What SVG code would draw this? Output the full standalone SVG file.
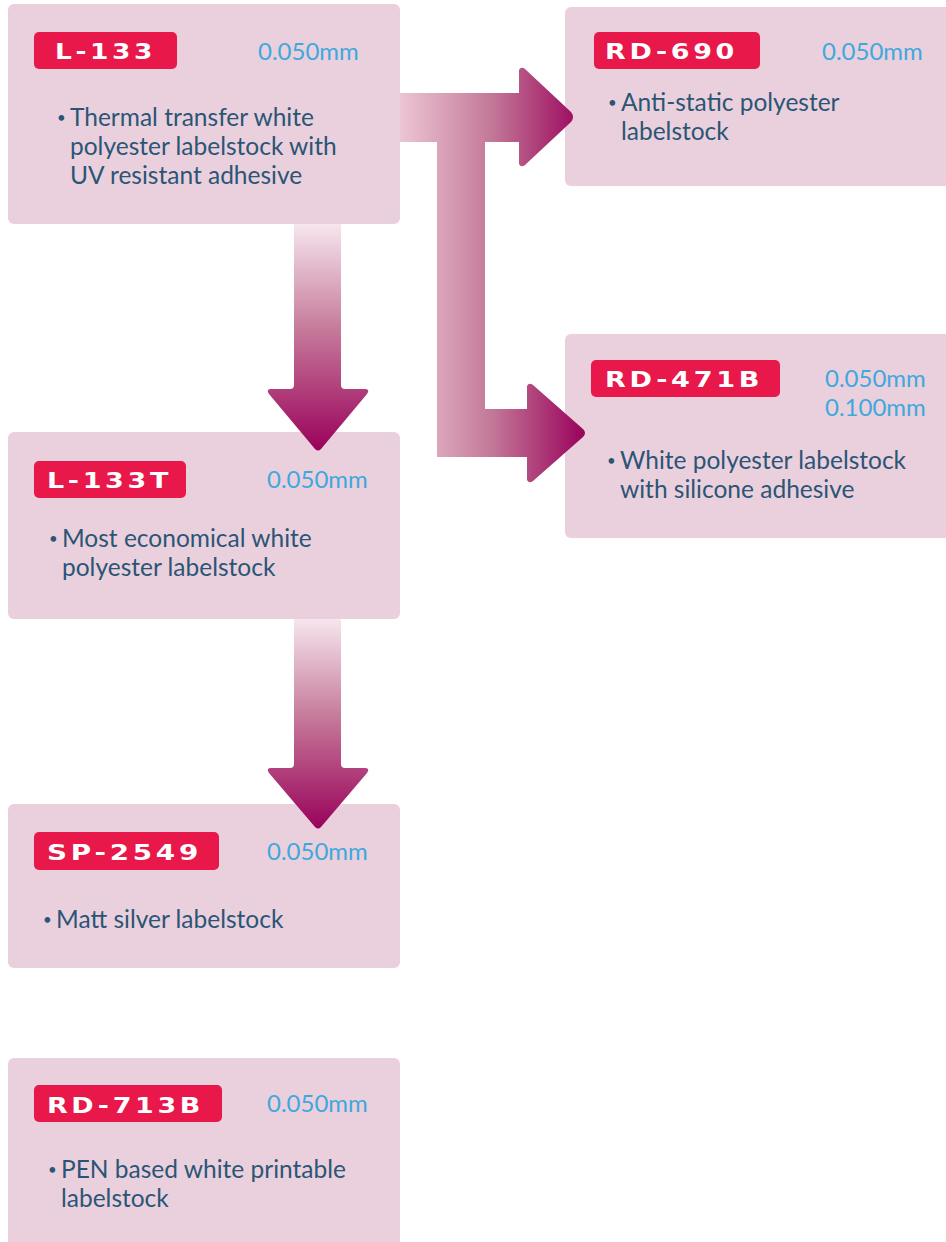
<svg xmlns="http://www.w3.org/2000/svg" width="946" height="1242" viewBox="0 0 946 1242">
<style>
.box{fill:#ead0dc}
.badge{fill:#e8184a}
.code{font-family:"DejaVu Sans",sans-serif;font-weight:bold;font-size:22px;fill:#ffffff;letter-spacing:3px}
.thk{font-family:Lato,"Liberation Sans",sans-serif;font-size:24px;fill:#3fa8de}
.desc{font-family:Lato,"Liberation Sans",sans-serif;font-size:24.5px;fill:#2a5577}
.bul{font-family:Lato,"Liberation Sans",sans-serif;font-size:15px;fill:#2a5577}
</style>
<defs>
<linearGradient id="gh" x1="400" y1="0" x2="586" y2="0" gradientUnits="userSpaceOnUse">
<stop offset="0" stop-color="#ecc5d4"/>
<stop offset="0.5" stop-color="#c27797"/>
<stop offset="1" stop-color="#99005a"/>
</linearGradient>
<linearGradient id="gv1" x1="0" y1="224" x2="0" y2="452" gradientUnits="userSpaceOnUse">
<stop offset="0" stop-color="#f6e6ee"/>
<stop offset="0.45" stop-color="#c77d9c"/>
<stop offset="1" stop-color="#99005a"/>
</linearGradient>
<linearGradient id="gv2" x1="0" y1="619" x2="0" y2="830" gradientUnits="userSpaceOnUse">
<stop offset="0" stop-color="#f6e6ee"/>
<stop offset="0.45" stop-color="#c77d9c"/>
<stop offset="1" stop-color="#99005a"/>
</linearGradient>
</defs>

<g id="node-L-133">
<rect class="box" x="8" y="4" width="392" height="220" rx="6"/>
<rect class="badge" x="34" y="32" width="143" height="37" rx="5"/>
<text class="code" x="55" y="59" textLength="101" lengthAdjust="spacingAndGlyphs">L-133</text>
<text class="thk" x="258" y="60">0.050mm</text>
<text class="bul" x="57" y="123">•</text>
<text class="desc" x="70" y="126">Thermal transfer white</text>
<text class="desc" x="70" y="155">polyester labelstock with</text>
<text class="desc" x="70" y="184">UV resistant adhesive</text>
</g>

<g id="node-RD-690">
<rect class="box" x="565" y="7" width="390" height="179" rx="6"/>
<rect class="badge" x="594" y="32" width="166" height="37" rx="5"/>
<text class="code" x="605" y="59" textLength="133" lengthAdjust="spacingAndGlyphs">RD-690</text>
<text class="thk" x="822" y="60">0.050mm</text>
<text class="bul" x="608" y="108">•</text>
<text class="desc" x="621" y="111">Anti-static polyester</text>
<text class="desc" x="621" y="140">labelstock</text>
</g>

<g id="node-RD-471B">
<rect class="box" x="565" y="334" width="390" height="204" rx="6"/>
<rect class="badge" x="591" y="360" width="189" height="37" rx="5"/>
<text class="code" x="605" y="387" textLength="158" lengthAdjust="spacingAndGlyphs">RD-471B</text>
<text class="thk" x="825" y="387">0.050mm</text>
<text class="thk" x="825" y="416">0.100mm</text>
<text class="bul" x="607" y="466">•</text>
<text class="desc" x="620" y="469">White polyester labelstock</text>
<text class="desc" x="620" y="498">with silicone adhesive</text>
</g>

<g id="node-L-133T">
<rect class="box" x="8" y="432" width="392" height="187" rx="6"/>
<rect class="badge" x="34" y="461" width="152" height="37" rx="5"/>
<text class="code" x="47" y="488" textLength="125" lengthAdjust="spacingAndGlyphs">L-133T</text>
<text class="thk" x="267" y="488">0.050mm</text>
<text class="bul" x="49" y="544">•</text>
<text class="desc" x="62" y="547">Most economical white</text>
<text class="desc" x="62" y="576">polyester labelstock</text>
</g>

<g id="node-SP-2549">
<rect class="box" x="8" y="804" width="392" height="164" rx="6"/>
<rect class="badge" x="34" y="832" width="185" height="38" rx="5"/>
<text class="code" x="47" y="860" textLength="155" lengthAdjust="spacingAndGlyphs">SP-2549</text>
<text class="thk" x="267" y="860">0.050mm</text>
<text class="bul" x="43" y="925">•</text>
<text class="desc" x="56" y="928">Matt silver labelstock</text>
</g>

<g id="node-RD-713B">
<rect class="box" x="8" y="1058" width="392" height="200" rx="6"/>
<rect class="badge" x="34" y="1085" width="188" height="37" rx="5"/>
<text class="code" x="47" y="1113" textLength="157" lengthAdjust="spacingAndGlyphs">RD-713B</text>
<text class="thk" x="267" y="1112">0.050mm</text>
<text class="bul" x="48" y="1175">•</text>
<text class="desc" x="61" y="1178">PEN based white printable</text>
<text class="desc" x="61" y="1207">labelstock</text>
</g>

<g id="connectors">
<path d="M400 93 H519 V70 Q521 66 525 69 L571 112 Q575 117 571 122 L525 165 Q521 168 519 164 V142 H485 V409 H527 V386 Q529 382 533 385 L583 429 Q587 433 583 437 L533 481 Q529 484 527 480 V457 H437 V142 H400 Z" fill="url(#gh)"/>
<path d="M294 224 H341 V385 Q341 389 345 389 H366 Q370 390 367 394 L321 449 Q318 452 315 449 L269 394 Q266 390 270 389 H290 Q294 389 294 385 Z" fill="url(#gv1)"/>
<path d="M294 619 H341 V764 Q341 768 345 768 H366 Q370 769 367 773 L321 827 Q318 830 315 827 L269 773 Q266 769 270 768 H290 Q294 768 294 764 Z" fill="url(#gv2)"/>
</g>
</svg>
